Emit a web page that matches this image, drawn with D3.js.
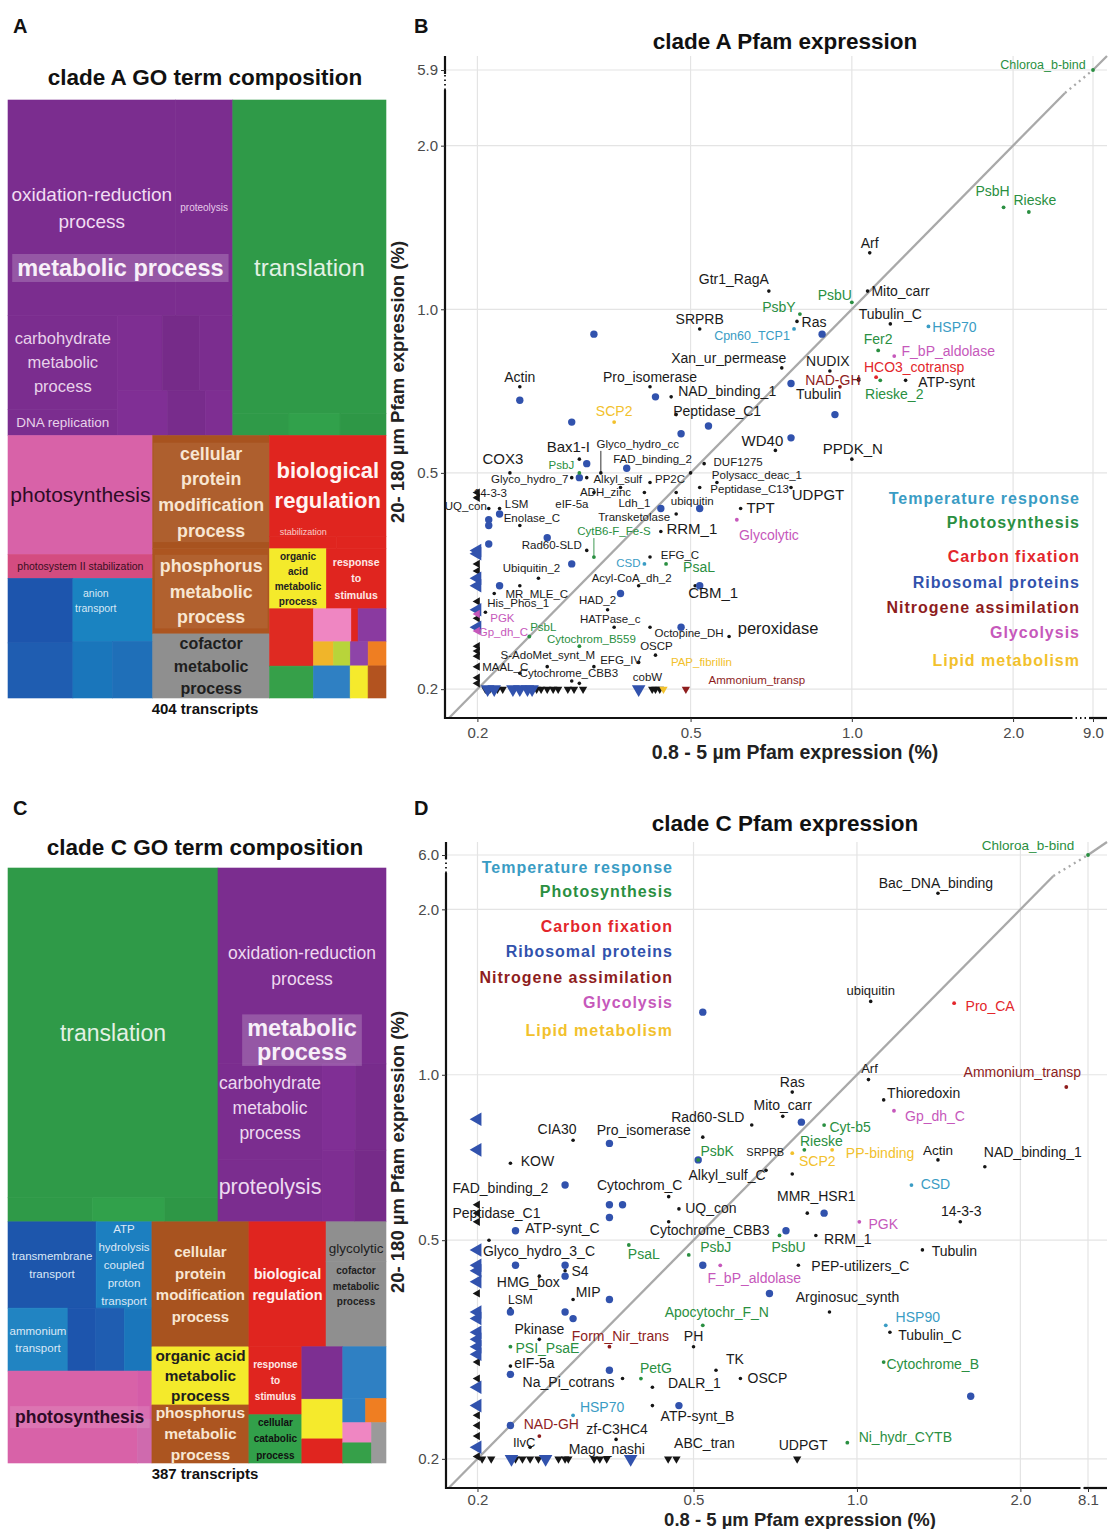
<!DOCTYPE html>
<html>
<head>
<meta charset="utf-8">
<script src="https://cdn.jsdelivr.net/npm/d3@7"></script>
<style>
  body { margin: 0; background: #fff; }
  svg { display: block; }
</style>
</head>
<body>
<svg id="fig" width="1110" height="1529"></svg>
<script>
// ================= DATA =================

// GO term composition, clade A: [cluster, GO term, transcripts]
const goTermsA = [
  ["metabolic process", "oxidation-reduction process", 64.7],
  ["metabolic process", "proteolysis", 22.1],
  ["metabolic process", "carbohydrate metabolic process", 18.4],
  ["metabolic process", "DNA replication", 5.1],
  ["metabolic process", "metabolic process / minor 1", 6.0],
  ["metabolic process", "metabolic process / minor 2", 5.0],
  ["metabolic process", "metabolic process / minor 3", 4.5],
  ["metabolic process", "metabolic process / minor 4", 4.0],
  ["metabolic process", "metabolic process / minor 5", 3.0],
  ["metabolic process", "metabolic process / minor 6", 2.2],
  ["translation", "translation", 86.0],
  ["translation", "translation / minor 1", 2.2],
  ["translation", "translation / minor 2", 2.0],
  ["translation", "translation / minor 3", 1.8],
  ["photosynthesis", "photosynthesis", 30.8],
  ["photosynthesis", "photosystem II stabilization", 6.2],
  ["transport", "transport / minor 1", 7.5],
  ["transport", "transport / minor 2", 6.4],
  ["transport", "anion transport", 9.0],
  ["transport", "transport / minor 3", 4.0],
  ["transport", "transport / minor 4", 4.1],
  ["cellular protein modification process", "cellular protein modification process", 23.7],
  ["phosphorus metabolic process", "phosphorus metabolic process", 17.8],
  ["cofactor metabolic process", "cofactor metabolic process", 13.4],
  ["biological regulation", "biological regulation", 21.0],
  ["biological regulation", "stabilization", 1.5],
  ["biological regulation", "biological regulation / minor 1", 1.1],
  ["organic acid metabolic process", "organic acid metabolic process", 6.1],
  ["response to stimulus", "response to stimulus", 6.4],
  ["small cluster 1", "small cluster 1", 4.5],
  ["small cluster 2", "small cluster 2", 2.5],
  ["small cluster 3", "small cluster 3", 2.24],
  ["small cluster 4", "small cluster 4", 0.4],
  ["small cluster 5", "small cluster 5", 1.65],
  ["small cluster 6", "small cluster 6", 0.86],
  ["small cluster 7", "small cluster 7", 0.73],
  ["small cluster 8", "small cluster 8", 0.77],
  ["small cluster 9", "small cluster 9", 0.77],
  ["small cluster 10", "small cluster 10", 2.11],
  ["small cluster 11", "small cluster 11", 1.03],
  ["small cluster 12", "small cluster 12", 1.03]
];

// GO term composition, clade C: [cluster, GO term, transcripts]
const goTermsC = [
  ["translation", "translation", 119.3],
  ["translation", "translation / minor 1", 3.5],
  ["translation", "translation / minor 2", 3.0],
  ["translation", "translation / minor 3", 2.2],
  ["metabolic process", "oxidation-reduction process", 56.7],
  ["metabolic process", "carbohydrate metabolic process", 17.2],
  ["metabolic process", "proteolysis", 11.1],
  ["metabolic process", "metabolic process / minor 1", 5.0],
  ["metabolic process", "metabolic process / minor 2", 4.5],
  ["metabolic process", "metabolic process / minor 3", 4.0],
  ["metabolic process", "metabolic process / minor 4", 3.9],
  ["transport", "transmembrane transport", 13.1],
  ["transport", "ATP hydrolysis coupled proton transport", 8.3],
  ["transport", "ammonium transport", 6.5],
  ["transport", "transport / minor 1", 3.0],
  ["transport", "transport / minor 2", 3.1],
  ["transport", "transport / minor 3", 3.0],
  ["photosynthesis", "photosynthesis", 20.5],
  ["photosynthesis", "photosynthesis / minor 1", 1.2],
  ["photosynthesis", "photosynthesis / minor 2", 1.1],
  ["cellular protein modification process", "cellular protein modification process", 20.9],
  ["organic acid metabolic process", "organic acid metabolic process", 9.7],
  ["phosphorus metabolic process", "phosphorus metabolic process", 9.7],
  ["biological regulation", "biological regulation", 16.6],
  ["cofactor metabolic process", "glycolytic process", 4.1],
  ["cofactor metabolic process", "cofactor metabolic process", 8.8],
  ["response to stimulus", "response to stimulus", 6.2],
  ["cellular catabolic process", "cellular catabolic process", 4.4],
  ["small cluster 13", "small cluster 13", 3.7],
  ["small cluster 14", "small cluster 14", 2.8],
  ["small cluster 15", "small cluster 15", 1.7],
  ["small cluster 16", "small cluster 16", 3.85],
  ["small cluster 17", "small cluster 17", 0.95],
  ["small cluster 18", "small cluster 18", 0.85],
  ["small cluster 19", "small cluster 19", 1.0],
  ["small cluster 20", "small cluster 20", 1.0],
  ["small cluster 21", "small cluster 21", 1.0]
];

const transcriptsA = 404;
const transcriptsC = 387;

// Pfam expression (%): [family, 0.8-5 µm, 20-180 µm, group]; null = below 0.2 %
const pfamA = [
  ["Chloroa_b-bind", 9.0, 5.9, "photo"], ["PsbH", 1.92, 1.54, "photo"], ["Rieske", 2.14, 1.51, "photo"],
  ["Arf", 1.08, 1.27, "other"], ["Gtr1_RagA", 0.70, 1.08, "other"], ["Mito_carr", 1.07, 1.08, "other"],
  ["PsbU", 1.00, 1.03, "photo"], ["PsbY", 0.80, 0.98, "photo"], ["Ras", 0.79, 0.95, "other"],
  ["Tubulin_C", 1.18, 0.94, "other"], ["SRPRB", 0.52, 0.92, "other"], ["Cpn60_TCP1", 0.78, 0.92, "temp"],
  ["HSP70", 1.39, 0.93, "temp"], ["Fer2", 1.12, 0.84, "photo"], ["F_bP_aldolase", 1.20, 0.82, "glyco"],
  ["Xan_ur_permease", 0.74, 0.78, "other"], ["NUDIX", 0.91, 0.77, "other"], ["HCO3_cotransp", 1.11, 0.75, "carbon"],
  ["NAD-GH", 0.95, 0.72, "nitro"], ["Tubulin", 1.03, 0.74, "other"], ["Rieske_2", 1.13, 0.74, "photo"],
  ["ATP-synt", 1.26, 0.74, "other"], ["Actin", 0.24, 0.72, "other"], ["Pro_isomerase", 0.42, 0.72, "other"],
  ["NAD_binding_1", 0.46, 0.69, "other"], ["Peptidase_C1", 0.47, 0.64, "other"], ["SCP2", 0.36, 0.62, "lipid"],
  ["WD40", 0.72, 0.55, "other"], ["PPDK_N", 1.00, 0.53, "other"], ["Bax1-I", 0.31, 0.53, "other"],
  ["Glyco_hydro_cc", 0.34, 0.50, "other"], ["COX3", 0.23, 0.50, "other"], ["PsbJ", 0.31, 0.50, "photo"],
  ["FAD_binding_2", 0.50, 0.50, "other"], ["DUF1275", 0.53, 0.52, "other"], ["Glyco_hydro_7", 0.30, 0.49, "other"],
  ["Alkyl_sulf", 0.32, 0.49, "other"], ["PP2C", 0.42, 0.48, "other"], ["ADH_zinc", 0.37, 0.47, "other"],
  ["Polysacc_deac_1", 0.56, 0.48, "other"], ["Peptidase_C13", 0.52, 0.47, "other"], ["UDPGT", 0.77, 0.47, "other"],
  ["14-3-3", null, 0.45, "other"], ["eIF-5a", 0.33, 0.46, "other"], ["Ldh_1", 0.41, 0.46, "other"],
  ["ubiquitin", 0.47, 0.46, "other"], ["LSM", 0.22, 0.43, "other"], ["UQ_con", 0.21, 0.43, "other"],
  ["Enolase_C", 0.24, 0.40, "other"], ["Transketolase", 0.47, 0.42, "other"], ["TPT", 0.62, 0.43, "other"],
  ["Glycolytic", 0.61, 0.41, "glyco"], ["RRM_1", 0.44, 0.39, "other"], ["CytB6-F_Fe-S", 0.33, 0.35, "photo"],
  ["Rad60-SLD", 0.32, 0.36, "other"], ["EFG_C", 0.42, 0.35, "other"], ["CSD", 0.41, 0.34, "temp"],
  ["PsaL", 0.45, 0.34, "photo"], ["Ubiquitin_2", 0.26, 0.32, "other"], ["Acyl-CoA_dh_2", 0.40, 0.31, "other"],
  ["MR_MLE_C", 0.24, 0.31, "other"], ["His_Phos_1", 0.215, 0.30, "other"], ["HAD_2", 0.35, 0.28, "other"],
  ["CBM_1", 0.51, 0.31, "other"], ["PGK", null, 0.275, "glyco"], ["Gp_dh_C", null, 0.256, "glyco"],
  ["PsbL", 0.25, 0.25, "photo"], ["HATPase_c", 0.36, 0.26, "other"], ["Cytochrom_B559", 0.31, 0.24, "photo"],
  ["Octopine_DH", 0.42, 0.26, "other"], ["peroxidase", 0.59, 0.25, "other"], ["OSCP", 0.43, 0.231, "other"],
  ["S-AdoMet_synt_M", 0.33, 0.22, "other"], ["MAAL_C", 0.27, 0.22, "other"], ["EFG_IV", 0.40, 0.224, "other"],
  ["Cytochrome_CBB3", 0.24, 0.214, "other"], ["cobW", 0.43, null, "other"], ["PAP_fibrillin", 0.445, null, "lipid"],
  ["Ammonium_transp", 0.49, null, "nitro"]
];

// unlabeled ribosomal protein families, clade A: [0.8-5 µm, 20-180 µm]
const riboA = [
  [0.33, 0.90], [0.88, 0.90], [0.77, 0.73], [0.24, 0.68], [0.43, 0.69], [0.30, 0.62], [0.48, 0.59],
  [0.54, 0.61], [0.93, 0.64], [0.77, 0.58], [0.32, 0.52], [0.38, 0.51], [0.31, 0.49], [0.44, 0.43],
  [0.52, 0.43], [0.22, 0.42], [0.21, 0.41], [0.21, 0.40], [0.21, 0.37], [0.27, 0.38], [0.30, 0.34],
  [0.22, 0.31], [0.37, 0.30], [0.52, 0.31], [0.48, 0.26],
  [null, 0.36], [null, 0.355], [null, 0.32], [null, 0.31], [null, 0.28], [null, 0.26],
  [0.209, null], [0.215, null], [0.233, null], [0.24, null], [0.248, null], [0.253, null], [0.40, null]
];

// other unlabeled families, clade A
const minorA = [
  [null, 0.46], [null, 0.34], [null, 0.33], [null, 0.29], [null, 0.27], [null, 0.24],
  [null, 0.235], [null, 0.23], [null, 0.22], [null, 0.21], [null, 0.205],
  [0.207, null], [0.211, null], [0.218, null], [0.223, null], [0.258, null], [0.263, null],
  [0.27, null], [0.277, null], [0.283, null], [0.295, null], [0.303, null], [0.315, null],
  [0.424, null], [0.438, null],
  [0.207, 0.277], [0.30, 0.207], [0.31, 0.205], [1.03, 0.745]
];

const pfamC = [
  ["Chloroa_b-bind", 8.1, 6.0, "photo"], ["Bac_DNA_binding", 1.41, 2.14, "other"], ["ubiquitin", 1.06, 1.36, "other"],
  ["Pro_CA", 1.51, 1.35, "carbon"], ["Arf", 1.05, 0.98, "other"], ["Ammonium_transp", 2.43, 0.95, "nitro"],
  ["Ras", 0.76, 0.93, "other"], ["Thioredoxin", 1.12, 0.90, "other"], ["Gp_dh_C", 1.17, 0.86, "glyco"],
  ["Mito_carr", 0.73, 0.84, "other"], ["Rad60-SLD", 0.64, 0.81, "other"], ["Cyt-b5", 0.87, 0.81, "photo"],
  ["CIA30", 0.30, 0.76, "other"], ["Pro_isomerase", 0.52, 0.77, "other"], ["Rieske", 0.80, 0.73, "photo"],
  ["SCP2", 0.76, 0.72, "lipid"], ["PP-binding", 0.90, 0.73, "lipid"], ["PsbK", 0.51, 0.70, "photo"],
  ["SRPRB", 0.76, 0.66, "other"], ["Actin", 1.41, 0.70, "other"], ["NAD_binding_1", 1.72, 0.68, "other"],
  ["KOW", 0.23, 0.69, "other"], ["Alkyl_sulf_C", 0.68, 0.67, "other"], ["CSD", 1.26, 0.63, "temp"],
  ["FAD_binding_2", null, 0.58, "other"], ["Cytochrom_C", 0.45, 0.60, "other"], ["MMR_HSR1", 0.81, 0.56, "other"],
  ["UQ_con", 0.47, 0.57, "other"], ["Peptidase_C1", null, 0.56, "other"], ["ATP-synt_C", 0.235, 0.52, "other"],
  ["Cytochrome_CBB3", 0.45, 0.54, "other"], ["14-3-3", 1.55, 0.54, "other"], ["PGK", 1.01, 0.54, "glyco"],
  ["RRM_1", 0.84, 0.51, "other"], ["PsbU", 0.72, 0.51, "photo"], ["Glyco_hydro_3_C", 0.21, 0.50, "other"],
  ["PsaL", 0.38, 0.49, "photo"], ["PsbJ", 0.49, 0.47, "photo"], ["Tubulin", 1.32, 0.48, "other"],
  ["F_bP_aldolase", 0.56, 0.45, "glyco"], ["PEP-utilizers_C", 0.78, 0.45, "other"], ["S4", 0.29, 0.44, "other"],
  ["HMG_box", 0.26, 0.43, "other"], ["MIP", 0.30, 0.39, "other"], ["Arginosuc_synth", 0.89, 0.37, "other"],
  ["LSM", 0.23, 0.375, "other"], ["Apocytochr_F_N", 0.52, 0.35, "photo"], ["HSP90", 1.13, 0.35, "temp"],
  ["Tubulin_C", 1.15, 0.34, "other"], ["Pkinase", 0.26, 0.33, "other"], ["Form_Nir_trans", 0.35, 0.32, "nitro"],
  ["PH", 0.50, 0.32, "other"], ["PSI_PsaE", 0.23, 0.32, "photo"], ["TK", 0.55, 0.29, "other"],
  ["Cytochrome_B", 1.12, 0.30, "photo"], ["eIF-5a", 0.23, 0.295, "other"], ["Na_Pi_cotrans", 0.37, 0.28, "other"],
  ["PetG", 0.40, 0.28, "photo"], ["DALR_1", 0.42, 0.27, "other"], ["OSCP", 0.61, 0.28, "other"],
  ["HSP70", 0.30, 0.24, "temp"], ["ATP-synt_B", 0.42, 0.25, "other"], ["NAD-GH", 0.26, 0.22, "nitro"],
  ["zf-C3HC4", 0.36, 0.217, "other"], ["IlvC", 0.25, 0.21, "other"], ["Mago_nashi", 0.336, null, "other"],
  ["ABC_tran", 0.465, null, "other"], ["UDPGT", 0.776, null, "other"], ["Ni_hydr_CYTB", 0.96, 0.214, "photo"]
];

const riboC = [
  [0.52, 1.30], [0.79, 0.82], [0.35, 0.75], [0.51, 0.70], [0.29, 0.63], [0.235, 0.52], [0.35, 0.58],
  [0.35, 0.55], [0.37, 0.58], [0.87, 0.56], [0.74, 0.52], [0.52, 0.45], [0.29, 0.45], [0.29, 0.43],
  [0.235, 0.45], [0.35, 0.39], [0.69, 0.40], [0.29, 0.37], [0.30, 0.36], [0.23, 0.37], [0.23, 0.285],
  [0.35, 0.29], [1.62, 0.26], [0.47, 0.25], [0.23, 0.23],
  [null, 0.83], [null, 0.73], [null, 0.48], [null, 0.45], [null, 0.44], [null, 0.42], [null, 0.37],
  [null, 0.36], [null, 0.34], [null, 0.33], [null, 0.32], [null, 0.31], [null, 0.27], [null, 0.25],
  [null, 0.21], [0.231, null], [0.267, null], [0.383, null]
];

const minorC = [
  [null, 0.54], [null, 0.40], [null, 0.30], [null, 0.28], [null, 0.24], [null, 0.23], [null, 0.22], [null, 0.202],
  [0.204, null], [0.212, null], [0.235, null], [0.242, null], [0.25, null], [0.259, null], [0.282, null],
  [0.29, null], [0.294, null], [0.328, null], [0.346, null], [0.449, null]
];

// axis ticks (the last tick carries the largest value, placed past the axis break)
const ticksA = { x: [0.2, 0.5, 1.0, 2.0, 9.0], y: [0.2, 0.5, 1.0, 2.0, 5.9] };
const ticksC = { x: [0.2, 0.5, 1.0, 2.0, 8.1], y: [0.2, 0.5, 1.0, 2.0, 6.0] };

const groupLegend = [
  ["Temperature response", "temp"], ["Photosynthesis", "photo"], ["Carbon fixation", "carbon"],
  ["Ribosomal proteins", "ribo"], ["Nitrogene assimilation", "nitro"], ["Glycolysis", "glyco"],
  ["Lipid metabolism", "lipid"]
];

// ================= STYLE & LAYOUT =================
const FONT = '"Liberation Sans", Arial, Helvetica, sans-serif';
const groupColor = {
  temp: "#3a9cc4", photo: "#2a8f41", carbon: "#e3262b", ribo: "#3152ad",
  nitro: "#8e1d1d", glyco: "#c658bb", lipid: "#f2c12c", other: "#151515"
};

const clusterFill = {
  "metabolic process": "#7b2d8f", "translation": "#2f9a48", "photosynthesis": "#d862a8",
  "transport": "#1e6cb5", "cellular protein modification process": "#a8531f",
  "phosphorus metabolic process": "#ac5520", "cofactor metabolic process": "#8f8f8f",
  "biological regulation": "#e0251f", "organic acid metabolic process": "#f4ea2b",
  "response to stimulus": "#e0251f", "cellular catabolic process": "#32a04a",
  "small cluster 1": "#df2a22", "small cluster 2": "#36a049", "small cluster 3": "#ef86c2",
  "small cluster 4": "#e0251f", "small cluster 5": "#8a3aa0", "small cluster 6": "#f0b52a",
  "small cluster 7": "#b8d43a", "small cluster 8": "#8e44a8", "small cluster 9": "#ef7e22",
  "small cluster 10": "#2f80c3", "small cluster 11": "#f5ea2c", "small cluster 12": "#b3531f",
  "small cluster 13": "#7d2f92", "small cluster 14": "#f5ea2c", "small cluster 15": "#e0251f",
  "small cluster 16": "#2f80c3", "small cluster 17": "#2f80c3", "small cluster 18": "#ef7e22",
  "small cluster 19": "#ef86c2", "small cluster 20": "#36a049", "small cluster 21": "#9a9a9a"
};
const termFill = {
  "photosystem II stabilization": "#d44c80", "anion transport": "#1a83c1",
  "transport / minor 1": "#1d55ad", "transport / minor 2": "#1f5db1",
  "transport / minor 3": "#1a76bb", "transport / minor 4": "#1f6fb8",
  "transmembrane transport": "#1d56ac", "ATP hydrolysis coupled proton transport": "#1c7fc0",
  "ammonium transport": "#2184c2", "photosynthesis / minor 1": "#d45ca8", "photosynthesis / minor 2": "#cf6aae"
};

// nesting of the treemap: rows stack vertically, cols side by side
const layoutA = { split: "rows", children: [
  { split: "cols", children: [
    { cluster: "metabolic process", split: "rows", children: [
      { split: "cols", children: ["oxidation-reduction process", "proteolysis"] },
      { split: "cols", children: [
        { split: "rows", children: ["carbohydrate metabolic process", "DNA replication"] },
        { split: "squarify", children: ["metabolic process / minor 1", "metabolic process / minor 2",
          "metabolic process / minor 3", "metabolic process / minor 4", "metabolic process / minor 5",
          "metabolic process / minor 6"] }
      ] }
    ] },
    { cluster: "translation", split: "rows", children: ["translation",
      { split: "cols", children: ["translation / minor 1", "translation / minor 2", "translation / minor 3"] }] }
  ] },
  { split: "cols", children: [
    { split: "rows", children: [
      { cluster: "photosynthesis", split: "rows", children: ["photosynthesis", "photosystem II stabilization"] },
      { cluster: "transport", split: "cols", children: [
        { split: "rows", children: ["transport / minor 1", "transport / minor 2"] },
        { split: "rows", children: ["anion transport",
          { split: "cols", children: ["transport / minor 3", "transport / minor 4"] }] }
      ] }
    ] },
    { split: "rows", children: [
      { cluster: "cellular protein modification process", split: "rows", children: ["cellular protein modification process"] },
      { cluster: "phosphorus metabolic process", split: "rows", children: ["phosphorus metabolic process"] },
      { cluster: "cofactor metabolic process", split: "rows", children: ["cofactor metabolic process"] }
    ] },
    { split: "rows", children: [
      { cluster: "biological regulation", split: "rows", children: ["biological regulation",
        { split: "cols", children: ["stabilization", "biological regulation / minor 1"] }] },
      { split: "cols", children: [
        { cluster: "organic acid metabolic process", split: "rows", children: ["organic acid metabolic process"] },
        { cluster: "response to stimulus", split: "rows", children: ["response to stimulus"] }
      ] },
      { split: "cols", children: [
        { split: "rows", children: ["small cluster 1", "small cluster 2"] },
        { split: "rows", children: [
          { split: "cols", children: ["small cluster 3", "small cluster 4", "small cluster 5"] },
          { split: "cols", children: ["small cluster 6", "small cluster 7", "small cluster 8", "small cluster 9"] },
          { split: "cols", children: ["small cluster 10", "small cluster 11", "small cluster 12"] }
        ] }
      ] }
    ] }
  ] }
] };

const layoutC = { split: "rows", children: [
  { split: "cols", children: [
    { cluster: "translation", split: "rows", children: ["translation",
      { split: "cols", children: ["translation / minor 1", "translation / minor 2", "translation / minor 3"] }] },
    { cluster: "metabolic process", split: "rows", children: [
      "oxidation-reduction process",
      { split: "cols", children: [
        { split: "rows", children: ["carbohydrate metabolic process", "proteolysis"] },
        { split: "squarify", children: ["metabolic process / minor 1", "metabolic process / minor 2",
          "metabolic process / minor 3", "metabolic process / minor 4"] }
      ] }
    ] }
  ] },
  { split: "cols", children: [
    { split: "rows", children: [
      { cluster: "transport", split: "rows", children: [
        { split: "cols", children: ["transmembrane transport", "ATP hydrolysis coupled proton transport"] },
        { split: "cols", children: ["ammonium transport", "transport / minor 1", "transport / minor 2", "transport / minor 3"] }
      ] },
      { cluster: "photosynthesis", split: "cols", children: ["photosynthesis",
        { split: "rows", children: ["photosynthesis / minor 1", "photosynthesis / minor 2"] }] }
    ] },
    { split: "rows", children: [
      { cluster: "cellular protein modification process", split: "rows", children: ["cellular protein modification process"] },
      { cluster: "organic acid metabolic process", split: "rows", children: ["organic acid metabolic process"] },
      { cluster: "phosphorus metabolic process", split: "rows", children: ["phosphorus metabolic process"] }
    ] },
    { split: "rows", children: [
      { split: "cols", children: [
        { cluster: "biological regulation", split: "rows", children: ["biological regulation"] },
        { cluster: "cofactor metabolic process", split: "rows", children: ["glycolytic process", "cofactor metabolic process"] }
      ] },
      { split: "cols", children: [
        { split: "rows", children: [
          { cluster: "response to stimulus", split: "rows", children: ["response to stimulus"] },
          { cluster: "cellular catabolic process", split: "rows", children: ["cellular catabolic process"] }
        ] },
        { split: "cols", children: [
          { split: "rows", children: ["small cluster 13", "small cluster 14", "small cluster 15"] },
          { split: "rows", children: ["small cluster 16",
            { split: "cols", children: ["small cluster 17", "small cluster 18"] },
            { split: "cols", children: [
              { split: "rows", children: ["small cluster 19", "small cluster 20"] }, "small cluster 21"] }
          ] }
        ] }
      ] }
    ] }
  ] }
] };

const tmLabelsA = [
  { term: "oxidation-reduction process", lines: ["oxidation-reduction", "process"], size: 19, fill: "#f1dcf2", lh: 1.47 },
  { term: "proteolysis", lines: ["proteolysis"], size: 10, fill: "#e6c9e9" },
  { cluster: "metabolic process", lines: ["metabolic process"], size: 23.5, weight: 700, fill: "#f8f0f9", box: "rgba(255,255,255,0.2)" },
  { term: "carbohydrate metabolic process", lines: ["carbohydrate", "metabolic", "process"], size: 16.5, fill: "#e8d2ea", lh: 1.45 },
  { term: "DNA replication", lines: ["DNA replication"], size: 13.5, fill: "#e8d2ea" },
  { cluster: "translation", lines: ["translation"], size: 24, fill: "#e3f1e4" },
  { term: "photosynthesis", lines: ["photosynthesis"], size: 21, fill: "#2d0b26" },
  { term: "photosystem II stabilization", lines: ["photosystem II stabilization"], size: 10.5, fill: "#3a0f22" },
  { term: "anion transport", lines: ["anion", "transport"], size: 10.5, fill: "#d6e8f5", lh: 1.5, dx: -17, dy: -9 },
  { cluster: "cellular protein modification process", lines: ["cellular", "protein", "modification", "process"], size: 17.8, weight: 700, fill: "#f8e6d2", lh: 1.45, box: "rgba(255,255,255,0.07)" },
  { cluster: "phosphorus metabolic process", lines: ["phosphorus", "metabolic", "process"], size: 17.8, weight: 700, fill: "#f8e6d2", lh: 1.45, box: "rgba(255,255,255,0.07)" },
  { cluster: "cofactor metabolic process", lines: ["cofactor", "metabolic", "process"], size: 16, weight: 700, fill: "#1e1e1e", lh: 1.4 },
  { cluster: "biological regulation", lines: ["biological", "regulation"], size: 22, weight: 700, fill: "#fff4f2", lh: 1.35, dy: -7 },
  { term: "stabilization", lines: ["stabilization"], size: 9, fill: "#f8cdca", dy: -11 },
  { cluster: "organic acid metabolic process", lines: ["organic", "acid", "metabolic", "process"], size: 10, weight: 700, fill: "#222", lh: 1.5 },
  { cluster: "response to stimulus", lines: ["response", "to", "stimulus"], size: 10.5, weight: 700, fill: "#fde9e7", lh: 1.55 }
];

const tmLabelsC = [
  { term: "translation", lines: ["translation"], size: 23, fill: "#e3f1e4" },
  { term: "oxidation-reduction process", lines: ["oxidation-reduction", "process"], size: 17.5, fill: "#efd9f0", lh: 1.5 },
  { cluster: "metabolic process", lines: ["metabolic", "process"], size: 23.5, weight: 700, fill: "#f8f0f9", lh: 1.0, dy: -5, box: "rgba(255,255,255,0.2)" },
  { term: "carbohydrate metabolic process", lines: ["carbohydrate", "metabolic", "process"], size: 17.5, fill: "#eddaf0", lh: 1.45, dy: -4 },
  { term: "proteolysis", lines: ["proteolysis"], size: 21.5, fill: "#eddaf0", dy: -4 },
  { term: "transmembrane transport", lines: ["transmembrane", "transport"], size: 11.5, fill: "#dce8f6", lh: 1.5 },
  { term: "ATP hydrolysis coupled proton transport", lines: ["ATP", "hydrolysis", "coupled", "proton", "transport"], size: 11.5, fill: "#dce8f6", lh: 1.55 },
  { term: "ammonium transport", lines: ["ammonium", "transport"], size: 11.5, fill: "#dce8f6", lh: 1.5 },
  { cluster: "cellular protein modification process", lines: ["cellular", "protein", "modification", "process"], size: 15, weight: 700, fill: "#f8e6d2", lh: 1.45 },
  { cluster: "biological regulation", lines: ["biological", "regulation"], size: 14.5, weight: 700, fill: "#fff0ee", lh: 1.45 },
  { term: "glycolytic process", lines: ["glycolytic"], size: 13.5, fill: "#1e1e1e", dy: 7 },
  { term: "cofactor metabolic process", lines: ["cofactor", "metabolic", "process"], size: 10, weight: 700, fill: "#1e1e1e", lh: 1.55, dy: -18 },
  { cluster: "organic acid metabolic process", lines: ["organic acid", "metabolic", "process"], size: 15.3, weight: 700, fill: "#1e1e1e", lh: 1.3 },
  { cluster: "phosphorus metabolic process", lines: ["phosphorus", "metabolic", "process"], size: 15.5, weight: 700, fill: "#f8e6d2", lh: 1.35 },
  { term: "response to stimulus", lines: ["response", "to", "stimulus"], size: 10, weight: 700, fill: "#fde9e7", lh: 1.6 },
  { term: "cellular catabolic process", lines: ["cellular", "catabolic", "process"], size: 10, weight: 700, fill: "#111", lh: 1.65 },
  { term: "photosynthesis", lines: ["photosynthesis"], size: 17.5, weight: 700, fill: "#2d0b26", dx: 7, box: "rgba(255,255,255,0.12)" }
];

// label nudges (pixels from the point) for the scatter panels
const nudgeA = {
  "Chloroa_b-bind": [-50, -5], "PsbH": [-11, -16], "Rieske": [6, -12], "Arf": [0, -10], "Gtr1_RagA": [-35, -12],
  "Mito_carr": [33, 0], "PsbU": [-17, -7], "PsbY": [-21, -7], "Ras": [17, 1], "Tubulin_C": [0, -10],
  "SRPRB": [0, -10], "Cpn60_TCP1": [-42, 7], "HSP70": [26, 1], "Fer2": [0, -11], "F_bP_aldolase": [54, -5],
  "Xan_ur_permease": [-53, -10], "NUDIX": [-2, -10], "HCO3_cotransp": [38, -10], "NAD-GH": [-7, -7],
  "Tubulin": [-40, 14], "Rieske_2": [14, 14], "ATP-synt": [41, 2], "Actin": [0, -10], "Pro_isomerase": [0, -10],
  "NAD_binding_1": [56, -6], "Peptidase_C1": [41, -4], "SCP2": [0, -11], "WD40": [-13, -10], "PPDK_N": [1, -10],
  "Bax1-I": [-11, -12], "Glyco_hydro_cc": [37, -29], "COX3": [-7, -14], "PsbJ": [-18, -8], "FAD_binding_2": [-38, -14],
  "DUF1275": [34, -2], "Glyco_hydro_7": [-42, 1], "Alkyl_sulf": [31, 1], "PP2C": [20, -4], "ADH_zinc": [-15, 4],
  "Polysacc_deac_1": [40, -8], "Peptidase_C13": [50, 1], "UDPGT": [27, 7], "14-3-3": [13, -5], "eIF-5a": [-22, 11],
  "Ldh_1": [-10, 10], "ubiquitin": [16, 8], "LSM": [17, -5], "UQ_con": [-23, -3], "Enolase_C": [12, -8],
  "Transketolase": [-42, 3], "TPT": [20, -1], "Glycolytic": [32, 15], "RRM_1": [31, -3], "CytB6-F_Fe-S": [20, -26],
  "Rad60-SLD": [-35, -5], "EFG_C": [30, -2], "CSD": [-16, -1], "PsaL": [33, 3], "Ubiquitin_2": [-7, -10],
  "Acyl-CoA_dh_2": [-7, -8], "MR_MLE_C": [17, 8], "His_Phos_1": [24, 10], "HAD_2": [-10, -10], "CBM_1": [18, 7],
  "PGK": [25, 4], "Gp_dh_C": [26, 1], "PsbL": [14, -10], "HATPase_c": [-4, -8], "Cytochrom_B559": [12, -7],
  "Octopine_DH": [39, 6], "peroxidase": [49, -8], "OSCP": [1, -9], "S-AdoMet_synt_M": [-46, -12], "MAAL_C": [-42, 0],
  "EFG_IV": [-18, -2], "Cytochrome_CBB3": [49, 0], "cobW": [-8, -12], "PAP_fibrillin": [38, -27], "Ammonium_transp": [71, -9]
};
const nudgeC = {
  "Chloroa_b-bind": [-60, -10], "Bac_DNA_binding": [-2, -10], "ubiquitin": [0, -11], "Pro_CA": [36, 3], "Arf": [1, -11],
  "Ammonium_transp": [-44, -15], "Ras": [0, -10], "Thioredoxin": [40, -7], "Gp_dh_C": [41, 5], "Mito_carr": [0, -11],
  "Rad60-SLD": [-44, -8], "Cyt-b5": [26, 2], "CIA30": [-16, -11], "Pro_isomerase": [-59, -7], "Rieske": [17, -9],
  "SCP2": [25, 8], "PP-binding": [48, 3], "PsbK": [19, -9], "SRPRB": [-27, -22], "Actin": [0, -10],
  "NAD_binding_1": [48, -15], "KOW": [27, -2], "Alkyl_sulf_C": [-39, 5], "CSD": [24, -1], "FAD_binding_2": [23, -17],
  "Cytochrom_C": [-29, -12], "MMR_HSR1": [9, -17], "UQ_con": [32, -1], "Peptidase_C1": [19, 0], "ATP-synt_C": [47, -3],
  "Cytochrome_CBB3": [41, 8], "14-3-3": [1, -11], "PGK": [24, 2], "RRM_1": [32, 4], "PsbU": [9, 12],
  "Glyco_hydro_3_C": [50, 11], "PsaL": [15, 9], "PsbJ": [27, -8], "Tubulin": [32, 1], "F_bP_aldolase": [34, 13],
  "PEP-utilizers_C": [62, 1], "S4": [15, 0], "HMG_box": [-11, 6], "MIP": [15, -7], "Arginosuc_synth": [18, -15],
  "LSM": [10, -9], "Apocytochr_F_N": [14, -13], "HSP90": [32, -8], "Tubulin_C": [40, 3], "Pkinase": [0, -10],
  "Form_Nir_trans": [11, -11], "PH": [0, -11], "PSI_PsaE": [37, 1], "TK": [19, -11], "Cytochrome_B": [49, 2],
  "eIF-5a": [24, -3], "Na_Pi_cotrans": [-54, 4], "PetG": [15, -10], "DALR_1": [42, -4], "OSCP": [27, 0],
  "HSP70": [29, -8], "ATP-synt_B": [45, 11], "NAD-GH": [12, -12], "zf-C3HC4": [1, -10], "IlvC": [-6, -5],
  "Mago_nashi": [7, -10], "ABC_tran": [28, -16], "UDPGT": [6, -14], "Ni_hydr_CYTB": [58, -6]
};
const labelSizeA = {
  peroxidase: 16.5, CBM_1: 15, TPT: 15, RRM_1: 15, UDPGT: 15, PPDK_N: 15, WD40: 15, COX3: 15, "Bax1-I": 15,
  Xan_ur_permease: 14, Actin: 14, Pro_isomerase: 14, NAD_binding_1: 14, Peptidase_C1: 14, Gtr1_RagA: 14,
  SRPRB: 14, Mito_carr: 14, Tubulin_C: 14, NUDIX: 14, Tubulin: 14, "ATP-synt": 14, Arf: 14, Ras: 14,
  HCO3_cotransp: 14, "NAD-GH": 14, PsbH: 14, Rieske: 14, PsbY: 14, PsbU: 14, Fer2: 14, F_bP_aldolase: 14,
  HSP70: 14, Rieske_2: 14, SCP2: 14, Glycolytic: 14, PsaL: 14, "Chloroa_b-bind": 12.5, Cpn60_TCP1: 12.5
};
const labelSizeC = { SRPRB: 11, ubiquitin: 13, Arf: 13, "Chloroa_b-bind": 13.5, Actin: 13.5, LSM: 12, IlvC: 13 };
const leaderA = new Set(["Glyco_hydro_cc", "CytB6-F_Fe-S"]);

// ================= DRAWING =================
const svg = d3.select("#fig").style("font-family", FONT);
svg.append("rect").attr("width", 1110).attr("height", 1529).attr("fill", "#fff");

function text(x, y, s, o = {}) {
  return svg.append("text").attr("x", x).attr("y", y).attr("dy", "0.35em")
    .attr("text-anchor", o.anchor || "middle").attr("font-size", o.size || 14)
    .attr("font-weight", o.weight || 400).attr("fill", o.fill || "#111")
    .attr("letter-spacing", o.ls || 0).text(s);
}

// panel letters and titles
[["A", 13, 26], ["B", 414, 26], ["C", 13, 808], ["D", 414, 808]].forEach(([s, x, y]) =>
  text(x, y, s, { anchor: "start", size: 20, weight: 700 }));
text(205, 77, "clade A GO term composition", { size: 22.5, weight: 700 });
text(205, 847, "clade C GO term composition", { size: 22.5, weight: 700 });
text(785, 41, "clade A Pfam expression", { size: 22.5, weight: 700 });
text(785, 823, "clade C Pfam expression", { size: 22.5, weight: 700 });

// ---------- treemaps
function tileBySpec(node, x0, y0, x1, y1) {
  const s = node.data && node.data.split;
  if (s === "rows") d3.treemapSlice(node, x0, y0, x1, y1);
  else if (s === "cols") d3.treemapDice(node, x0, y0, x1, y1);
  else d3.treemapSquarify(node, x0, y0, x1, y1);
}

function drawTreemap(spec, terms, box, labels, total) {
  const val = new Map(terms.map(d => [d[1], d[2]]));
  const clu = new Map(terms.map(d => [d[1], d[0]]));
  const root = d3.hierarchy(spec, d => (typeof d === "string" ? null : d.children))
    .sum(d => (typeof d === "string" ? (val.get(d) || 0) : 0));
  d3.treemap().size([box.w, box.h]).tile(tileBySpec)(root);
  const g = svg.append("g").attr("transform", `translate(${box.x},${box.y})`);

  const fillOf = (d, i) => {
    if (termFill[d.data]) return termFill[d.data];
    const base = clusterFill[clu.get(d.data)] || "#999";
    if (d.data.indexOf("/ minor") < 0) return base;
    const k = ((i * 37) % 5 - 2) * 0.06;
    return d3.color(base).brighter(k).formatHex();
  };
  g.selectAll("rect.tile").data(root.leaves()).join("rect")
    .attr("class", "tile")
    .attr("x", d => d.x0).attr("y", d => d.y0)
    .attr("width", d => d.x1 - d.x0).attr("height", d => d.y1 - d.y0)
    .attr("fill", fillOf).attr("stroke", fillOf).attr("stroke-width", 0.6);

  labels.forEach(L => {
    const node = L.cluster
      ? root.descendants().find(n => typeof n.data !== "string" && n.data.cluster === L.cluster)
      : root.leaves().find(n => n.data === L.term);
    if (!node) return;
    const cx = (node.x0 + node.x1) / 2 + (L.dx || 0);
    const cy = (node.y0 + node.y1) / 2 + (L.dy || 0);
    const lh = (L.lh || 1.3) * L.size;
    const tg = g.append("g");
    const t = tg.append("text").attr("text-anchor", "middle").attr("font-size", L.size)
      .attr("font-weight", L.weight || 400).attr("fill", L.fill);
    L.lines.forEach((s, i) => t.append("tspan").attr("x", cx)
      .attr("y", cy + (i - (L.lines.length - 1) / 2) * lh).attr("dy", "0.35em").text(s));
    if (L.box) {
      const bb = t.node().getBBox();
      tg.insert("rect", "text").attr("x", bb.x - 5).attr("y", bb.y - 1)
        .attr("width", bb.width + 10).attr("height", bb.height + 2).attr("fill", L.box);
    }
  });
  text(205, box.y + box.h + 11, `${total} transcripts`, { size: 15, weight: 700 });
}

drawTreemap(layoutA, goTermsA, { x: 8, y: 100, w: 378, h: 598 }, tmLabelsA, transcriptsA);
drawTreemap(layoutC, goTermsC, { x: 8, y: 868, w: 378, h: 595 }, tmLabelsC, transcriptsC);

// ---------- scatter panels
const fmt = d3.format(".1f");
const triangle = size => d3.symbol(d3.symbolTriangle, size)();

function drawScatter(P) {
  const { x, y, L, R, T, B } = P;
  const g = svg.append("g");
  const floor = 0.2;

  // grid
  g.append("g").selectAll("line").data(P.ticks.x).join("line")
    .attr("x1", d => x(d)).attr("x2", d => x(d)).attr("y1", T).attr("y2", B)
    .attr("stroke", "#e4e4e4").attr("stroke-width", 1.2);
  g.append("g").selectAll("line").data(P.ticks.y).join("line")
    .attr("y1", d => y(d)).attr("y2", d => y(d)).attr("x1", L).attr("x2", R)
    .attr("stroke", "#e4e4e4").attr("stroke-width", 1.2);

  // 1:1 line, dotted across the axis breaks
  const xMax = P.ticks.x[P.ticks.x.length - 1], yMax = P.ticks.y[P.ticks.y.length - 1];
  const lo = Math.max(x.domain()[0], y.domain()[0]);
  const ln = d3.line().x(d => x(d[0])).y(d => y(d[1]));
  const seg = (pts, dash) => {
    const p = g.append("path").attr("d", ln(pts)).attr("stroke", "#a9a9a9")
      .attr("stroke-width", 2.3).attr("fill", "none");
    if (dash) p.attr("stroke-dasharray", dash);
  };
  seg([[lo, lo], [P.brk, P.brk]]);
  seg([[P.brk, P.brk], [xMax, yMax]], "2,4");
  seg([[xMax, yMax], [x.invert(R), y.invert(T)]]);

  // axes lines with breaks
  const ax = (x1, y1, x2, y2, dash) => {
    const l = g.append("line").attr("x1", x1).attr("y1", y1).attr("x2", x2).attr("y2", y2)
      .attr("stroke", "#111").attr("stroke-width", 2.2);
    if (dash) l.attr("stroke-dasharray", dash).attr("stroke-width", 1.8);
  };
  const xb = x(P.brkX), yb = y(P.brkY);
  ax(L - 1, B, xb + 6, B); ax(xb + 6, B, x(xMax) - 4, B, "1.5,3"); ax(x(xMax) - 4, B, R, B);
  ax(L, B + 1, L, yb - 3); ax(L, yb - 3, L, y(yMax) + 4, "1.5,3"); ax(L, y(yMax) + 4, L, T);

  const styleAxis = a => a.attr("font-family", FONT).attr("font-size", 15).attr("color", "#333")
    .call(s => s.select(".domain").remove())
    .call(s => s.selectAll("text").attr("fill", "#4a4a4a"));
  g.append("g").attr("transform", `translate(0,${B})`)
    .call(d3.axisBottom(x).tickValues(P.ticks.x).tickFormat(fmt).tickSize(4).tickPadding(P.xPad)).call(styleAxis);
  g.append("g").attr("transform", `translate(${L},0)`)
    .call(d3.axisLeft(y).tickValues(P.ticks.y).tickFormat(fmt).tickSize(4).tickPadding(3)).call(styleAxis);

  // axis titles
  g.append("text").attr("x", P.xTitle[0]).attr("y", P.xTitle[1]).attr("dy", "0.35em")
    .attr("text-anchor", "middle").attr("font-size", P.xTitleSize).attr("font-weight", 700).attr("fill", "#222")
    .text("0.8 - 5 µm Pfam expression (%)");
  g.append("text").attr("transform", `translate(${P.yTitle[0]},${P.yTitle[1]}) rotate(-90)`).attr("dy", "0.35em")
    .attr("text-anchor", "middle").attr("font-size", 18.5).attr("font-weight", 700).attr("fill", "#222")
    .text("20- 180 µm Pfam expression (%)");

  // marks: points above detection, triangles for values below 0.2 %
  const pos = (xv, yv) => [xv == null ? x(floor) : x(xv), yv == null ? y(floor) : y(yv)];
  const mark = (sel, xv, yv, color, r, triSize) => {
    const [px, py] = pos(xv, yv);
    if (xv == null || yv == null) {
      sel.append("path").attr("d", triangle(triSize))
        .attr("transform", `translate(${px},${py}) rotate(${xv == null ? -90 : 180})`)
        .attr("fill", color);
    } else {
      sel.append("circle").attr("cx", px).attr("cy", py).attr("r", r).attr("fill", color);
    }
  };
  const mg = g.append("g");
  P.minor.forEach(d => mark(mg, d[0], d[1], groupColor.other, 1.8, 30));
  P.pfam.filter(d => d[3] === "other").forEach(d => mark(mg, d[1], d[2], groupColor.other, 1.8, 30));
  P.ribo.forEach(d => mark(mg, d[0], d[1], groupColor.ribo, 3.7, 80));
  P.pfam.filter(d => d[3] !== "other").forEach(d => mark(mg, d[1], d[2], groupColor[d[3]], 1.9, 30));

  // labels
  const lg = g.append("g");
  P.pfam.forEach(d => {
    const [px, py] = pos(d[1], d[2]);
    const [dx, dy] = P.nudge[d[0]] || [0, -10];
    const color = d[3] === "other" ? "#1a1a1a" : groupColor[d[3]];
    if (P.leaders && P.leaders.has(d[0])) {
      lg.append("line").attr("x1", px).attr("y1", py).attr("x2", px).attr("y2", py + dy + 7)
        .attr("stroke", color).attr("stroke-width", 0.9);
    }
    lg.append("text").attr("x", px + dx).attr("y", py + dy).attr("dy", "0.35em")
      .attr("text-anchor", "middle").attr("font-size", P.sizes[d[0]] || P.defaultSize)
      .attr("fill", color).text(d[0]);
  });

  // functional group legend
  groupLegend.forEach(([name, key], i) => {
    g.append("text").attr("x", P.legend.x).attr("y", P.legend.y[i]).attr("dy", "0.35em")
      .attr("text-anchor", "end").attr("font-size", 16).attr("font-weight", 700)
      .attr("letter-spacing", 1.0).attr("fill", groupColor[key]).text(name);
  });
}

// clade A panel
drawScatter({
  x: d3.scaleLog().domain([0.174, 2.5, 9.0]).range([445, 1065, 1093]),
  y: d3.scaleLog().domain([0.177, 2.5, 5.9]).range([718, 93, 70]),
  L: 445, R: 1107, T: 56, B: 718, brk: 2.5, brkX: 2.5, brkY: 2.5,
  ticks: ticksA, pfam: pfamA, ribo: riboA, minor: minorA,
  nudge: nudgeA, sizes: labelSizeA, defaultSize: 11.5, leaders: leaderA,
  xTitle: [795, 752], xTitleSize: 19.5, xPad: 5, yTitle: [398, 382],
  legend: { x: 1080, y: [498, 522, 556, 582, 607, 632, 660] }
});

// clade C panel
drawScatter({
  x: d3.scaleLog().domain([0.175, 2.5, 8.1]).range([446, 1073, 1088]),
  y: d3.scaleLog().domain([0.177, 2.3, 6.0]).range([1488, 876, 855]),
  L: 446, R: 1107, T: 842, B: 1488, brk: 2.3, brkX: 2.5, brkY: 2.3,
  ticks: ticksC, pfam: pfamC, ribo: riboC, minor: minorC,
  nudge: nudgeC, sizes: labelSizeC, defaultSize: 14, leaders: null,
  xTitle: [800, 1520], xTitleSize: 18.5, xPad: 2, yTitle: [398, 1152],
  legend: { x: 673, y: [867, 891, 926, 951, 977, 1002, 1030] }
});
</script>
</body>
</html>
